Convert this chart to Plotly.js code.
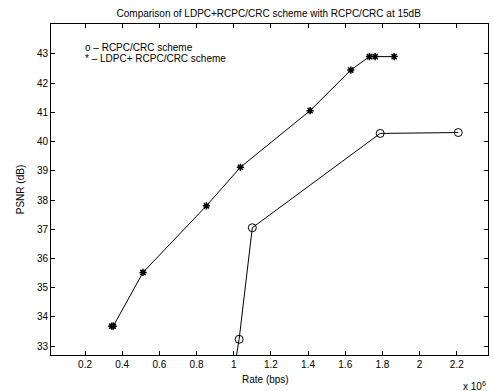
<!DOCTYPE html>
<html>
<head>
<meta charset="utf-8">
<script src="https://cdn.plot.ly/plotly-3.0.1.min.js"></script>
<style>html,body{margin:0;padding:0;background:#fff;}#chart{width:493px;height:391px;}</style>
</head>
<body>
<div id="chart"></div>
<script>
// Rate in units of 1e6 bps
const rcpcRate = [0.99, 1.029, 1.100, 1.788, 2.208];
const rcpcPsnr = [31.7, 33.23, 37.05, 40.28, 40.31];
const ldpcRate = [0.344, 0.352, 0.512, 0.853, 1.036, 1.411, 1.630, 1.730, 1.761, 1.863];
const ldpcPsnr = [33.68, 33.68, 35.52, 37.80, 39.12, 41.06, 42.45, 42.91, 42.91, 42.91];
const xTicks = [0.2, 0.4, 0.6, 0.8, 1, 1.2, 1.4, 1.6, 1.8, 2, 2.2];
const yTicks = [33, 34, 35, 36, 37, 38, 39, 40, 41, 42, 43];

const font = {family: 'Liberation Sans, Arial, sans-serif', size: 10, color: '#000'};

const traces = [
  {x: rcpcRate, y: rcpcPsnr, mode: 'lines+markers', type: 'scatter',
   line: {color: '#000', width: 1},
   marker: {symbol: 'circle-open', size: 8, color: '#000', line: {width: 1, color: '#000'}},
   cliponaxis: true},
  {x: ldpcRate, y: ldpcPsnr, mode: 'lines+markers', type: 'scatter',
   line: {color: '#000', width: 1},
   marker: {symbol: 'asterisk-open', size: 6, color: '#000', line: {width: 1.5, color: '#000'}},
   cliponaxis: true}
];

const axisCommon = {
  showline: true, mirror: 'ticks', linecolor: '#000', linewidth: 1,
  ticks: 'inside', ticklen: 4, tickcolor: '#000', tickwidth: 1,
  showgrid: false, zeroline: false, tickfont: font
};

const layout = {
  width: 493, height: 391,
  margin: {l: 51, r: 5, t: 24, b: 36},
  paper_bgcolor: '#fff', plot_bgcolor: '#fff',
  showlegend: false,
  font: font,
  title: {text: 'Comparison of LDPC+RCPC/CRC scheme with RCPC/CRC at 15dB',
          font: {family: font.family, size: 10, color: '#000'},
          x: 0.545, xanchor: 'center', y: 0.966, yanchor: 'middle'},
  xaxis: Object.assign({}, axisCommon, {
    range: [0.017, 2.368], tickvals: xTicks, ticktext: xTicks.map(String)
  }),
  yaxis: Object.assign({}, axisCommon, {
    range: [32.692, 44.027], tickvals: yTicks, ticktext: yTicks.map(String),
    title: {text: 'PSNR (dB)', font: font, standoff: 10}
  }),
  annotations: [
    {xref: 'paper', yref: 'paper', x: 0.073, y: 0.929, xanchor: 'left', yanchor: 'middle',
     text: 'o \u2013 RCPC/CRC scheme', showarrow: false, font: font},
    {xref: 'paper', yref: 'paper', x: 0.073, y: 0.896, xanchor: 'left', yanchor: 'middle',
     text: '* \u2013 LDPC+ RCPC/CRC scheme', showarrow: false, font: font},
    {xref: 'paper', yref: 'paper', x: 0.49, y: -0.052, xanchor: 'center', yanchor: 'top',
     text: 'Rate (bps)', showarrow: false, font: font},
    {xref: 'paper', yref: 'paper', x: 1.0, y: -0.07, xanchor: 'right', yanchor: 'top',
     text: 'x 10<sup>6</sup>', showarrow: false, font: font}
  ]
};

Plotly.newPlot('chart', traces, layout, {displayModeBar: false, staticPlot: true});
</script>
</body>
</html>
